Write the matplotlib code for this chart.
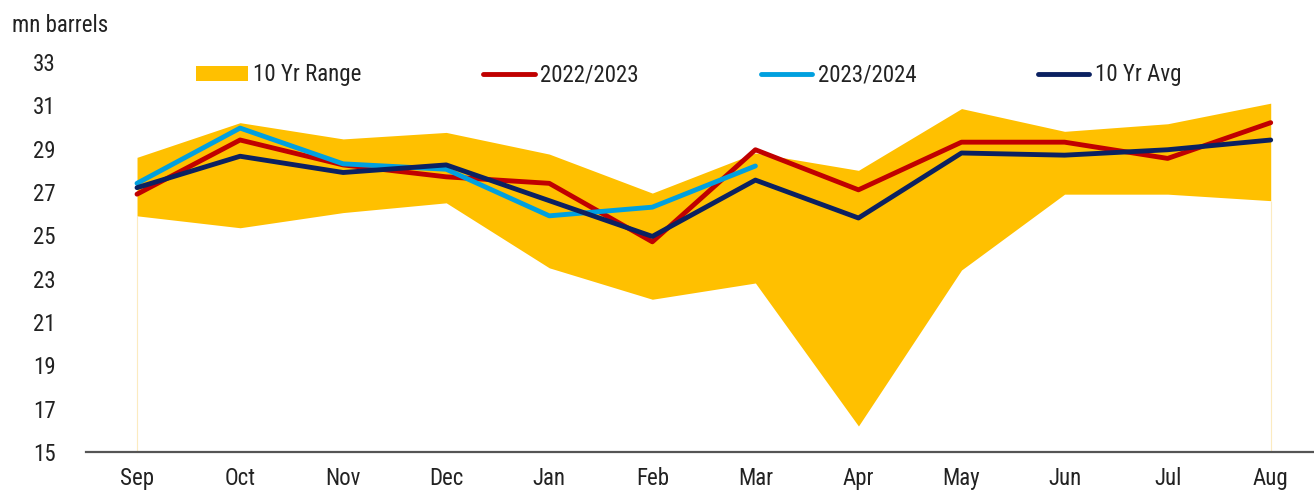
import matplotlib
matplotlib.use("Agg")
import matplotlib.pyplot as plt
from matplotlib.patches import Patch
from matplotlib.lines import Line2D
from matplotlib import font_manager

names = {f.name for f in font_manager.fontManager.ttflist}
cands = [n for n in ["Roboto Condensed", "Liberation Sans Narrow", "Roboto"] if n in names]
plt.rcParams['font.family'] = [cands[0], 'DejaVu Sans']

months = ["Sep", "Oct", "Nov", "Dec", "Jan", "Feb", "Mar", "Apr", "May", "Jun", "Jul", "Aug"]
range_low = [25.9, 25.35, 26.05, 26.5, 23.5, 22.05, 22.8, 16.2, 23.4, 26.9, 26.9, 26.6]
range_high = [28.6, 30.2, 29.45, 29.75, 28.75, 26.95, 28.8, 28.0, 30.85, 29.8, 30.15, 31.1]
y2022 = [26.9, 29.4, 28.25, 27.7, 27.4, 24.7, 28.95, 27.1, 29.3, 29.3, 28.55, 30.2]
y2023 = [27.4, 29.95, 28.3, 28.05, 25.9, 26.3, 28.2]
avg10 = [27.2, 28.65, 27.9, 28.25, 26.6, 24.95, 27.55, 25.8, 28.8, 28.7, 28.95, 29.4]
yticks = [15, 17, 19, 21, 23, 25, 27, 29, 31, 33]

C_RANGE = "#FFC000"
C_RED = "#C00000"
C_LBLUE = "#00A0DF"
C_NAVY = "#0B2161"

W, H = 1314, 493
fig = plt.figure(figsize=(W / 100, H / 100), dpi=100)
ax = fig.add_axes([86 / W, (H - 452) / H, 1 - 86 / W, (452 - 62) / H])

x = list(range(len(months)))
ax.fill_between(x, range_low, range_high, color=C_RANGE, lw=0, zorder=1)
ax.vlines([x[0], x[-1]], 15, [range_low[0], range_low[-1]], color="#FCEBC0", lw=0.8, zorder=0.5)
lw = 3.5
ax.plot(x, y2022, color=C_RED, lw=lw, solid_capstyle="round", zorder=3)
ax.plot(x[:len(y2023)], y2023, color=C_LBLUE, lw=lw, solid_capstyle="round", zorder=4)
ax.plot(x, avg10, color=C_NAVY, lw=lw, solid_capstyle="round", zorder=5)

ax.set_xlim(-0.495, 11.42)
ax.set_ylim(15, 33)
ax.set_yticks(yticks)
ax.set_yticklabels([str(t) for t in yticks])
ax.set_xticks(x)
ax.set_xticklabels(months)
fs = 16.5 if cands[0] != "Roboto" else 15.5
ax.tick_params(axis="both", length=0, labelsize=fs, colors="#222222")
ax.tick_params(axis="y", pad=22)
ax.tick_params(axis="x", pad=11)
for s in ["top", "right", "left"]:
    ax.spines[s].set_visible(False)
ax.spines["bottom"].set_color("#555555")
ax.spines["bottom"].set_linewidth(1.6)
ax.spines["bottom"].set_zorder(6)

handles = [
    Patch(facecolor=C_RANGE, edgecolor="none"),
    Line2D([0], [0], color=C_RED, lw=lw, solid_capstyle="round"),
    Line2D([0], [0], color=C_LBLUE, lw=lw, solid_capstyle="round"),
    Line2D([0], [0], color=C_NAVY, lw=lw, solid_capstyle="round"),
]
labels = ["10 Yr Range", "2022/2023", "2023/2024", "10 Yr Avg"]
leg = fig.legend(handles, labels, ncol=4, loc="center left",
                 bbox_to_anchor=(196 / W, 1 - 75 / H), frameon=False,
                 fontsize=fs, handlelength=2.25, handleheight=0.6,
                 handletextpad=0.25, columnspacing=5.3, borderaxespad=0,
                 borderpad=0)
for t in leg.get_texts():
    t.set_color("#222222")

fig.text(12 / W, 1 - 32 / H, "mn barrels", fontsize=fs, color="#222222", va="baseline", ha="left")

fig.savefig("out.png", dpi=100)
